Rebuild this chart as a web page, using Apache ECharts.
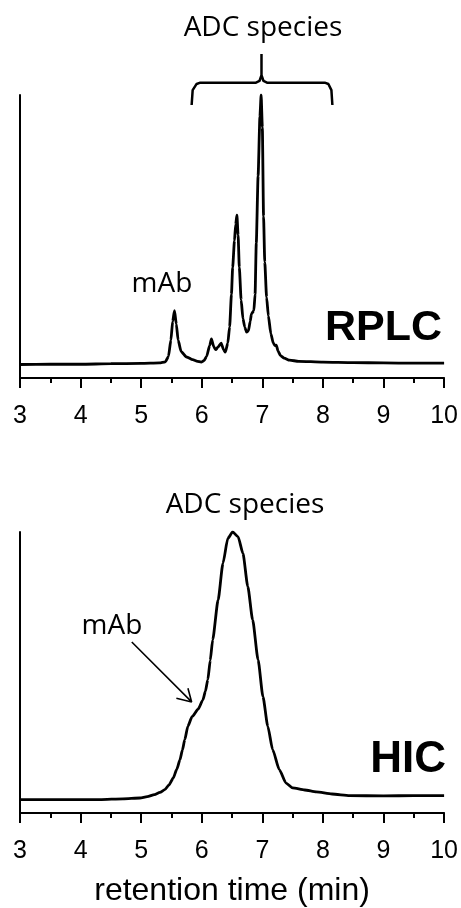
<!DOCTYPE html>
<html>
<head>
<meta charset="utf-8">
<script src="https://cdn.jsdelivr.net/npm/echarts@6/dist/echarts.min.js"></script>
<style>
    html, body {margin: 0; padding: 0; background: #fff;}
    #main {width: 461px; height: 908px;}
</style>
</head>
<body>
<div id="main"></div>
<script>
// retention time (min) vs detector signal (tallest peak = 100)
const rplcTime = [3.0, 3.5, 4.0, 4.5, 5.0, 5.3, 5.4, 5.45, 5.49, 5.52, 5.55, 5.58, 5.61, 5.66, 5.75, 5.85, 5.93, 5.99,
    6.04, 6.08, 6.13, 6.16, 6.2, 6.23, 6.27, 6.32, 6.36, 6.39, 6.43, 6.46, 6.49, 6.51, 6.54, 6.56, 6.58, 6.6, 6.62,
    6.65, 6.68, 6.71, 6.74, 6.77, 6.8, 6.82, 6.86, 6.88, 6.9, 6.93, 6.96, 6.98, 7.0, 7.02, 7.04, 7.07, 7.1, 7.14,
    7.18, 7.21, 7.23, 7.26, 7.3, 7.36, 7.45, 7.6, 8.0, 8.5, 9.0, 9.5, 10.0];
const rplcSignal = [0, 0.1, 0.1, 0.3, 0.4, 0.6, 1.0, 3, 9, 16, 20, 15, 9, 4.8, 2.8, 1.8, 1.2, 0.9,
    1.5, 3, 7, 9.5, 6.5, 5.5, 6.5, 7.9, 5.5, 4.6, 8, 14, 26, 36, 46, 52, 55.4, 48, 36,
    24, 17, 13.9, 12, 12.5, 16, 18.8, 20, 26, 45, 70, 92, 100, 88, 55, 38, 25, 18, 11.5,
    8, 7, 7.2, 5, 3.3, 2.4, 1.6, 1.2, 0.9, 0.7, 0.6, 0.5, 0.5];

const hicTime = [3.0, 3.5, 4.0, 4.32, 4.7, 4.98, 5.1, 5.22, 5.31, 5.39, 5.46, 5.53, 5.59, 5.64, 5.68, 5.72, 5.77,
    5.84, 5.94, 6.02, 6.06, 6.1, 6.14, 6.18, 6.27, 6.35, 6.43, 6.51, 6.6, 6.68, 6.76, 6.84, 6.93, 7.01, 7.09,
    7.17, 7.28, 7.39, 7.5, 7.7, 7.89, 8.15, 8.44, 9.0, 9.5, 10.0];
const hicSignal = [0, 0, 0, 0, 0.3, 0.6, 1.1, 1.9, 2.7, 3.7, 5.5, 8.1, 11.5, 14.9, 18.5, 22.4, 27.4,
    31, 33.8, 37.3, 40.5, 44.8, 52, 59.7, 74.6, 88.3, 97.6, 100, 98.2, 92, 79.6, 67.2, 52.2, 38.5, 27.4,
    18.7, 11.2, 6.2, 4.4, 3.6, 2.9, 2.1, 1.5, 1.4, 1.5, 1.5];

const timeTicks = [3, 10, 1];   // min, max, step

// bracket over the ADC peaks (RPLC panel units)
const bracketTime = [5.833, 5.85, 5.915, 5.965, 6.887, 6.953, 6.986, 6.986, 6.986, 7.019, 7.085, 8.04, 8.09, 8.14, 8.156];
const bracketLevel = [96.3, 101.8, 104.1, 104.5, 104.5, 105.2, 107.4, 115.2, 107.4, 105.2, 104.5, 104.5, 104.1, 101.8, 96.3];
// arrow to the mAb shoulder (HIC panel units)
const arrowTime = [4.845, 5.833, 5.581, 5.833, 5.772];
const arrowLevel = [58.9, 36.5, 37.9, 36.5, 41.6];

function pairs(xs, ys) {
    return xs.map((x, i) => [x, ys[i]]);
}

function timeAxis(gridIndex, extra) {
    return Object.assign({
        type: 'value',
        gridIndex: gridIndex,
        min: timeTicks[0],
        max: timeTicks[1],
        interval: timeTicks[2],
        axisLine: {onZero: false, lineStyle: {color: '#000', width: 2}},
        axisTick: {length: 10, lineStyle: {color: '#000', width: 2}},
        minorTick: {show: true, splitNumber: 2, length: 5, lineStyle: {color: '#000', width: 2}},
        splitLine: {show: false},
        minorSplitLine: {show: false},
        axisLabel: {color: '#000', fontSize: 25, fontFamily: 'Liberation Sans, Arial', margin: 26}
    }, extra || {});
}

function signalAxis(gridIndex) {
    return {
        type: 'value',
        gridIndex: gridIndex,
        min: -5,
        max: 100,
        axisLine: {show: true, onZero: false, lineStyle: {color: '#000', width: 2}},
        axisTick: {show: false},
        axisLabel: {show: false},
        splitLine: {show: false}
    };
}

function trace(idx, data, width, clip) {
    return {
        type: 'line',
        xAxisIndex: idx,
        yAxisIndex: idx,
        data: data,
        showSymbol: false,
        smooth: 0.2,
        smoothMonotone: 'x',
        clip: clip,
        silent: true,
        lineStyle: {color: '#000', width: width}
    };
}

function note(text, x, y, size, align, bold, family) {
    return {
        type: 'text',
        x: x,
        y: y,
        style: {
            text: text,
            fill: '#000',
            font: (bold ? 'bold ' : '') + size + 'px ' + family,
            textAlign: align,
            textVerticalAlign: 'middle'
        }
    };
}

let option = {
    animation: false,
    backgroundColor: '#fff',
    grid: [
        {left: 20, right: 16, top: 95, height: 283},
        {left: 20, right: 16, top: 532, height: 281}
    ],
    xAxis: [
        timeAxis(0),
        timeAxis(1, {
            name: 'retention time (min)',
            nameLocation: 'middle',
            nameGap: 62,
            nameTextStyle: {color: '#000', fontSize: 32, fontFamily: 'Liberation Sans, Arial'}
        })
    ],
    yAxis: [signalAxis(0), signalAxis(1)],
    series: [
        trace(0, pairs(rplcTime, rplcSignal), 2.8, true),
        Object.assign(trace(0, pairs(bracketTime, bracketLevel), 2.5, false), {smooth: false}),
        trace(1, pairs(hicTime, hicSignal), 2.8, true),
        Object.assign(trace(1, pairs(arrowTime, arrowLevel), 1.6, false), {smooth: false, smoothMonotone: null})
    ],
    graphic: [
        note('ADC species', 263, 28, 28, 'center', false, '"Open Sans"'),
        note('mAb', 162, 284, 28, 'center', false, '"Open Sans"'),
        note('RPLC', 442, 328, 43, 'right', true, '"Liberation Sans", Arial'),
        note('ADC species', 245, 505, 28, 'center', false, '"Open Sans"'),
        note('mAb', 112, 626, 28, 'center', false, '"Open Sans"'),
        note('HIC', 446, 760, 44, 'right', true, '"Liberation Sans", Arial')
    ]
};

let myChart = echarts.init(document.getElementById('main'));
myChart.setOption(option);
</script>
</body>
</html>
